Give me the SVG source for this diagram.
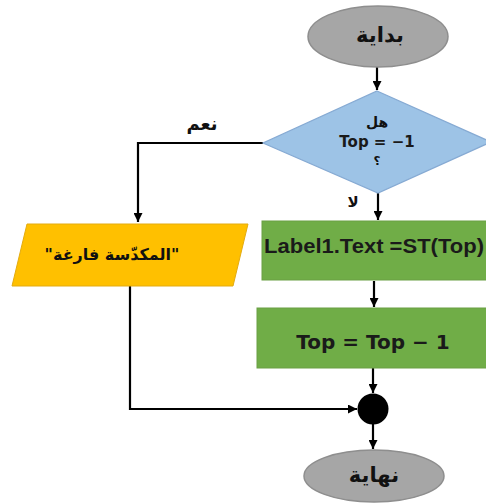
<svg xmlns="http://www.w3.org/2000/svg" width="486" height="504" viewBox="0 0 486 504">
<defs>
<marker id="ah" viewBox="0 0 10 10" refX="10" refY="5" markerWidth="9" markerHeight="9" markerUnits="userSpaceOnUse" orient="auto">
<path d="M0,0 L10,5 L0,10 z" fill="#000"/>
</marker>
<style>
.ar{font-family:"DejaVu Sans",sans-serif;font-weight:bold;fill:#111;text-anchor:middle;dominant-baseline:central}
.en{font-family:"DejaVu Sans",sans-serif;font-weight:bold;fill:#1a1a1a;text-anchor:middle;dominant-baseline:central}
.ln{fill:none;stroke:#000;stroke-width:2.2}
.term{fill:#a6a6a6;stroke:#8e8e8e;stroke-width:1.5}
.proc{fill:#70ad47;stroke:#6a9f45;stroke-width:1}
</style>
</defs>
<rect width="486" height="504" fill="#fff"/>
<g id="connectors">
<line class="ln" x1="377" y1="67" x2="377" y2="90" marker-end="url(#ah)"/>
<polyline class="ln" points="263,143 138,143 138,222" marker-end="url(#ah)"/>
<line class="ln" x1="378" y1="193" x2="378" y2="220" marker-end="url(#ah)"/>
<line class="ln" x1="374" y1="281" x2="374" y2="307" marker-end="url(#ah)"/>
<line class="ln" x1="373" y1="368" x2="373" y2="393" marker-end="url(#ah)"/>
<polyline class="ln" points="130,286 130,409 357,409" marker-end="url(#ah)"/>
<line class="ln" x1="373" y1="424" x2="373" y2="449" marker-end="url(#ah)"/>
<text class="ar" x="202" y="123" font-size="18">نعم</text>
<text class="ar" x="353" y="202" font-size="15">لا</text>
</g>
<g id="start">
<ellipse class="term" cx="378" cy="36.5" rx="70" ry="30.5"/>
<text class="ar" x="380" y="35" font-size="21">بداية</text>
</g>
<g id="decision">
<polygon points="377,91 491,142 378,193 263,143" fill="#9dc3e6" stroke="#86aad3" stroke-width="1.2"/>
<text class="ar" x="377" y="122" font-size="14">هل</text>
<text class="en" x="377" y="142" font-size="15">Top = −1</text>
<text class="ar" x="377" y="161" font-size="12">؟</text>
</g>
<g id="empty-msg">
<polygon points="27,224 248,224 233,286 12,286" fill="#ffc000" stroke="#e3ab10" stroke-width="1"/>
<text class="ar" x="112" y="254" font-size="16">"المكدّسة فارغة"</text>
</g>
<g id="label-text">
<rect class="proc" x="262" y="221" width="230" height="59"/>
<text x="374" y="253" font-family="'Liberation Sans',Arial,sans-serif" font-weight="bold" font-size="20" fill="#1a1a1a" text-anchor="middle" textLength="220" lengthAdjust="spacingAndGlyphs">Label1.Text =ST(Top)</text>
</g>
<g id="decrement">
<rect class="proc" x="257" y="308" width="235" height="60"/>
<text class="en" x="373" y="342" font-size="20">Top = Top − 1</text>
</g>
<g id="junction">
<circle cx="373" cy="409" r="15.5" fill="#000"/>
</g>
<g id="end">
<ellipse class="term" cx="374" cy="476" rx="70" ry="26"/>
<text class="ar" x="374" y="475" font-size="21">نهاية</text>
</g>
</svg>
